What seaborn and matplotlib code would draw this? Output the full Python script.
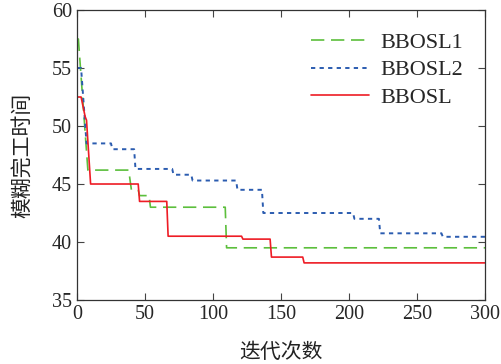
import matplotlib
matplotlib.use("Agg")
import matplotlib.pyplot as plt
import seaborn as sns
import pandas as pd

# iteration / fuzzy makespan breakpoints
bbosl1_x = [0, 1, 8, 38, 40, 45, 46, 53, 54, 109, 110, 300]
bbosl1_y = [57.5, 57.5, 46.2, 46.2, 44.5, 44.5, 44.0, 44.0, 43.0, 43.0, 39.5, 39.5]

bbosl2_x = [0, 3, 7, 25, 26, 42, 43, 70, 71, 84, 85, 117, 118, 136, 137,
            203, 204, 222, 223, 268, 269, 300]
bbosl2_y = [55.0, 55.0, 48.5, 48.5, 48.0, 48.0, 46.3, 46.3, 45.8, 45.8, 45.3,
            45.3, 44.5, 44.5, 42.5, 42.5, 42.0, 42.0, 40.75, 40.75, 40.45, 40.45]

bbosl_x = [0, 3, 6, 7, 10, 45, 46, 66, 67, 121, 122, 142, 143, 166, 167, 300]
bbosl_y = [52.5, 52.5, 50.8, 50.5, 45.0, 45.0, 43.5, 43.5, 40.5, 40.5, 40.25,
           40.25, 38.7, 38.7, 38.2, 38.2]

sns.set_style("ticks")
plt.rcParams['font.family'] = ['Liberation Serif', 'Noto Sans CJK SC']
plt.rcParams['xtick.direction'] = 'in'
plt.rcParams['ytick.direction'] = 'in'

fig = plt.figure(figsize=(5.01, 3.64), dpi=100)
ax = fig.add_axes([0.1537, 0.1758, 0.8143, 0.7967])

series = [
    ("BBOSL1", bbosl1_x, bbosl1_y, "#5cbf3c", (8, 4), 1.2),
    ("BBOSL2", bbosl2_x, bbosl2_y, "#2b5cb0", (2.2, 2.2), 1.4),
    ("BBOSL", bbosl_x, bbosl_y, "#ee1c25", None, 1.2),
]
for name, xs, ys, col, dash, lw in series:
    df = pd.DataFrame({"x": xs, "y": ys})
    sns.lineplot(data=df, x="x", y="y", sort=False, estimator=None,
                 color=col, linewidth=lw, label=name, ax=ax)
    if dash is not None:
        ax.lines[-1].set_dashes(dash)

ax.set_xlim(0, 300)
ax.set_ylim(35, 60)
ax.set_xticks([0, 50, 100, 150, 200, 250, 300])
ax.set_yticks([35, 40, 45, 50, 55, 60])
ax.tick_params(labelsize=14.5, top=True, right=True, length=5, width=0.8, color="#444444")
for s in ax.spines.values():
    s.set_linewidth(0.9)
    s.set_color("#333333")

ax.set_xlabel("迭代次数", fontsize=15, family=['Noto Sans CJK SC'],
              labelpad=12, color="#222222")
ax.set_ylabel("模糊完工时间", fontsize=15, family=['Noto Sans CJK SC'],
              labelpad=14, color="#222222")

ax.legend(loc="upper right", frameon=False, fontsize=16, handlelength=2.6,
          handletextpad=0.5, labelspacing=0.32, borderaxespad=0.6)

fig.savefig("out.png", dpi=100)
